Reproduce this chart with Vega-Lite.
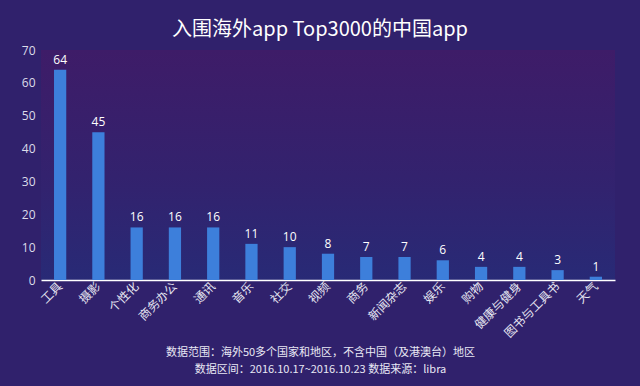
{
  "$schema": "https://vega.github.io/schema/vega-lite/v6.json",
  "width": 574,
  "height": 230,
  "autosize": "none",
  "padding": {"left": 41, "top": 50, "right": 25, "bottom": 106},
  "background": "#30216c",
  "config": {
    "view": {
      "stroke": null,
      "fill": {
        "gradient": "linear",
        "x1": 0, "y1": 0, "x2": 0, "y2": 1,
        "stops": [
          {"offset": 0, "color": "#3e1c68"},
          {"offset": 0.55, "color": "#33226e"},
          {"offset": 1, "color": "#282a76"}
        ]
      }
    },
    "font": "Noto Sans CJK SC"
  },
  "title": {
    "text": "入围海外app Top3000的中国app",
    "fontSize": 20,
    "fontWeight": "normal",
    "color": "#ffffff",
    "anchor": "middle",
    "dx": -8,
    "offset": 4
  },
  "data": {
    "values": [
      {"category": "工具", "count": 64},
      {"category": "摄影", "count": 45},
      {"category": "个性化", "count": 16},
      {"category": "商务办公", "count": 16},
      {"category": "通讯", "count": 16},
      {"category": "音乐", "count": 11},
      {"category": "社交", "count": 10},
      {"category": "视频", "count": 8},
      {"category": "商务", "count": 7},
      {"category": "新闻杂志", "count": 7},
      {"category": "娱乐", "count": 6},
      {"category": "购物", "count": 4},
      {"category": "健康与健身", "count": 4},
      {"category": "图书与工具书", "count": 3},
      {"category": "天气", "count": 1}
    ]
  },
  "encoding": {
    "x": {
      "field": "category",
      "type": "nominal",
      "sort": null,
      "scale": {"paddingInner": 0.68, "paddingOuter": 0.34},
      "axis": {
        "title": ["数据范围：海外50多个国家和地区，不含中国（及港澳台）地区", "数据区间：2016.10.17~2016.10.23 数据来源：libra"],
        "titleColor": "#e8e8f4",
        "titleFontSize": 11,
        "titleFontWeight": "normal",
        "titleLineHeight": 17,
        "titleY": 66,
        "titleX": 279,
        "labelAngle": -45,
        "labelAlign": "right",
        "labelBaseline": "middle",
        "labelColor": "#e6e6f2",
        "labelFontSize": 12,
        "labelPadding": 4,
        "ticks": false,
        "domainColor": "#ffffff",
        "domainWidth": 1.5
      }
    },
    "y": {
      "field": "count",
      "type": "quantitative",
      "scale": {"domain": [0, 70]},
      "axis": {
        "title": null,
        "values": [0, 10, 20, 30, 40, 50, 60, 70],
        "grid": false,
        "domain": false,
        "ticks": false,
        "labelColor": "#dcdcea",
        "labelFontSize": 12,
        "labelPadding": 6,
        "labelFont": "Open Sans"
      }
    }
  },
  "layer": [
    {"mark": {"type": "bar", "color": "#3d7fdb"}},
    {
      "mark": {"type": "text", "dy": -10, "color": "#ffffff", "fontSize": 12, "font": "Open Sans"},
      "encoding": {"text": {"field": "count", "type": "quantitative"}}
    }
  ]
}
